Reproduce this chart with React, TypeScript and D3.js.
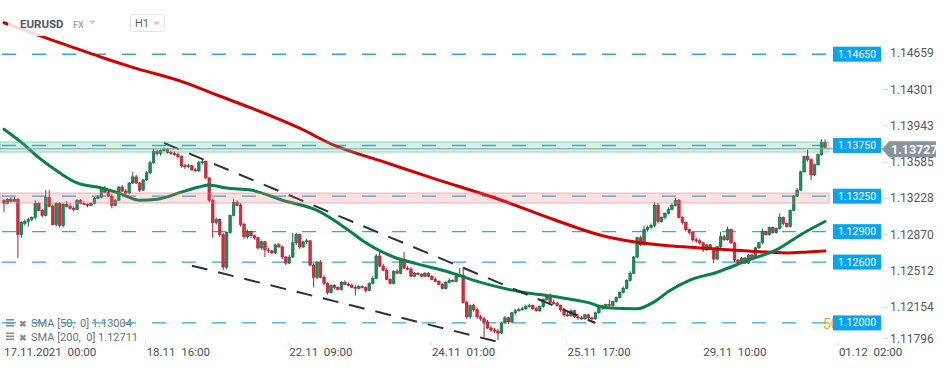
import * as d3 from "d3";

// EURUSD H1 candles, [open, high, low, close]
type C = [number, number, number, number];

const nov17: C[] = [
  [1.1321,1.1322,1.1309,1.1318],[1.1318,1.1323,1.1317,1.1322],[1.1322,1.1324,1.1319,1.1320],[1.1320,1.1324,1.1319,1.1322],
  [1.1322,1.1323,1.1264,1.1287],[1.1287,1.1300,1.1284,1.1299],[1.1298,1.1302,1.1296,1.1300],[1.1300,1.1304,1.1295,1.1302],
  [1.1302,1.1305,1.1300,1.1304],[1.1304,1.1321,1.1302,1.1318],[1.1318,1.1319,1.1310,1.1311],[1.1311,1.1312,1.1304,1.1306],
  [1.1306,1.1331,1.1305,1.1324],[1.1324,1.1331,1.1314,1.1315],[1.1315,1.1317,1.1296,1.1297],[1.1297,1.1319,1.1295,1.1318],
  [1.1318,1.1319,1.1294,1.1296],[1.1296,1.1318,1.1294,1.1317],[1.1317,1.1320,1.1314,1.1315],[1.1315,1.1318,1.1312,1.1313],
  [1.1313,1.1315,1.1310,1.1312],[1.1312,1.1322,1.1311,1.1321],[1.1321,1.1322,1.1317,1.1318],[1.1318,1.1320,1.1316,1.1317],
  [1.1317,1.1318,1.1314,1.1316],[1.1316,1.1319,1.1315,1.1318],[1.1318,1.1324,1.1317,1.1323],[1.1323,1.1326,1.1322,1.1324],
  [1.1324,1.1334,1.1323,1.1333],[1.1333,1.1335,1.1328,1.1329],[1.1329,1.1330,1.1324,1.1325],[1.1325,1.1327,1.1313,1.1316],
  [1.1316,1.1322,1.1315,1.1321],[1.1321,1.1335,1.1320,1.1334],[1.1334,1.1336,1.1329,1.1330],[1.1330,1.1332,1.1327,1.1328],
  [1.1328,1.1339,1.1327,1.1338],[1.1338,1.1349,1.1337,1.1344],[1.1344,1.1346,1.1337,1.1338],[1.1338,1.1339,1.1329,1.1331],
  [1.1331,1.1342,1.1330,1.1341],
];
const nov18: C[] = [
  [1.1341,1.1350,1.1340,1.1348],[1.1348,1.1360,1.1347,1.1358],[1.1358,1.1372,1.1357,1.1369],[1.1369,1.1371,1.1365,1.1367],
  [1.1367,1.1371,1.1365,1.1370],[1.1370,1.1373,1.1369,1.1371],[1.1371,1.1372,1.1367,1.1368],[1.1368,1.1370,1.1366,1.1367],
  [1.1367,1.1369,1.1365,1.1366],[1.1366,1.1368,1.1362,1.1364],[1.1364,1.1365,1.1353,1.1355],[1.1355,1.1357,1.1352,1.1354],
  [1.1354,1.1357,1.1353,1.1355],[1.1355,1.1356,1.1350,1.1351],[1.1351,1.1353,1.1349,1.1350],[1.1350,1.1360,1.1349,1.1358],
  [1.1358,1.1361,1.1356,1.1359],[1.1359,1.1360,1.1342,1.1343],[1.1343,1.1344,1.1319,1.1321],[1.1321,1.1323,1.1284,1.1299],
  [1.1299,1.1304,1.1297,1.1302],[1.1302,1.1303,1.1285,1.1287],[1.1287,1.1289,1.1252,1.1255],[1.1255,1.1290,1.1253,1.1289],
  [1.1289,1.1307,1.1288,1.1306],[1.1306,1.1322,1.1305,1.1319],[1.1319,1.1321,1.1315,1.1316],[1.1316,1.1318,1.1295,1.1297],
  [1.1297,1.1299,1.1283,1.1285],[1.1285,1.1292,1.1283,1.1290],[1.1290,1.1291,1.1284,1.1286],[1.1286,1.1287,1.1282,1.1284],
  [1.1284,1.1285,1.1272,1.1274],[1.1274,1.1281,1.1272,1.1280],[1.1280,1.1281,1.1265,1.1272],[1.1272,1.1274,1.1269,1.1271],
  [1.1271,1.1272,1.1268,1.1269],[1.1269,1.1278,1.1268,1.1277],[1.1277,1.1279,1.1274,1.1275],[1.1275,1.1276,1.1263,1.1265],
  [1.1265,1.1266,1.1257,1.1259],
];
const nov22: C[] = [
  [1.1259,1.1267,1.1258,1.1265],[1.1265,1.1289,1.1264,1.1279],[1.1279,1.1289,1.1277,1.1287],[1.1287,1.1288,1.1273,1.1275],
  [1.1275,1.1281,1.1274,1.1280],[1.1280,1.1283,1.1278,1.1281],[1.1281,1.1282,1.1256,1.1257],[1.1257,1.1259,1.1235,1.1245],
  [1.1245,1.1261,1.1243,1.1260],[1.1260,1.1262,1.1244,1.1245],[1.1245,1.1247,1.1237,1.1239],[1.1239,1.1240,1.1228,1.1230],
  [1.1230,1.1238,1.1229,1.1237],[1.1237,1.1238,1.1233,1.1235],[1.1235,1.1236,1.1232,1.1233],[1.1233,1.1241,1.1232,1.1240],
  [1.1240,1.1242,1.1237,1.1238],[1.1238,1.1240,1.1236,1.1237],[1.1237,1.1239,1.1234,1.1235],[1.1235,1.1237,1.1227,1.1234],
  [1.1234,1.1237,1.1233,1.1236],[1.1236,1.1237,1.1234,1.1235],[1.1235,1.1236,1.1230,1.1232],[1.1232,1.1240,1.1231,1.1239],
  [1.1239,1.1246,1.1238,1.1244],[1.1244,1.1268,1.1243,1.1266],[1.1266,1.1270,1.1255,1.1256],[1.1256,1.1258,1.1251,1.1252],
  [1.1252,1.1254,1.1242,1.1243],[1.1243,1.1244,1.1238,1.1239],[1.1239,1.1252,1.1238,1.1251],[1.1251,1.1253,1.1248,1.1249],
  [1.1249,1.1264,1.1248,1.1262],[1.1262,1.1270,1.1253,1.1254],[1.1254,1.1256,1.1252,1.1253],[1.1253,1.1255,1.1245,1.1246],
  [1.1246,1.1250,1.1245,1.1249],[1.1249,1.1250,1.1247,1.1248],[1.1248,1.1249,1.1245,1.1246],[1.1246,1.1250,1.1245,1.1249],
  [1.1249,1.1250,1.1245,1.1246],
];
const nov24: C[] = [
  [1.1246,1.1247,1.1242,1.1243],[1.1243,1.1245,1.1240,1.1241],[1.1241,1.1242,1.1237,1.1238],[1.1238,1.1239,1.1233,1.1234],
  [1.1234,1.1241,1.1233,1.1240],[1.1240,1.1244,1.1239,1.1242],[1.1242,1.1243,1.1240,1.1241],[1.1241,1.1247,1.1240,1.1246],
  [1.1246,1.1254,1.1245,1.1247],[1.1247,1.1254,1.1219,1.1220],[1.1220,1.1222,1.1204,1.1206],[1.1206,1.1218,1.1204,1.1217],
  [1.1217,1.1219,1.1211,1.1213],[1.1213,1.1215,1.1204,1.1206],[1.1206,1.1208,1.1202,1.1204],[1.1204,1.1206,1.1186,1.1201],
  [1.1201,1.1203,1.1194,1.1195],[1.1195,1.1197,1.1191,1.1193],[1.1193,1.1195,1.1190,1.1192],[1.1192,1.1194,1.1183,1.1190],
  [1.1190,1.1201,1.1189,1.1200],[1.1200,1.1207,1.1199,1.1205],[1.1205,1.1206,1.1199,1.1201],[1.1201,1.1211,1.1200,1.1210],
  [1.1210,1.1214,1.1208,1.1212],[1.1212,1.1215,1.1211,1.1213],[1.1213,1.1216,1.1212,1.1214],[1.1214,1.1218,1.1213,1.1216],
  [1.1216,1.1219,1.1215,1.1217],[1.1217,1.1218,1.1213,1.1214],[1.1214,1.1216,1.1211,1.1212],[1.1212,1.1217,1.1211,1.1216],
  [1.1216,1.1224,1.1215,1.1223],[1.1223,1.1228,1.1222,1.1226],[1.1226,1.1229,1.1219,1.1220],[1.1220,1.1223,1.1218,1.1219],
  [1.1219,1.1221,1.1216,1.1217],[1.1217,1.1218,1.1211,1.1213],[1.1213,1.1215,1.1206,1.1208],[1.1208,1.1211,1.1206,1.1207],
];
const nov25: C[] = [
  [1.1207,1.1213,1.1206,1.1212],[1.1212,1.1213,1.1205,1.1206],[1.1206,1.1209,1.1203,1.1205],[1.1205,1.1207,1.1203,1.1204],
  [1.1204,1.1209,1.1203,1.1208],[1.1208,1.1209,1.1204,1.1205],[1.1205,1.1206,1.1202,1.1204],[1.1204,1.1211,1.1203,1.1210],
  [1.1210,1.1218,1.1209,1.1217],[1.1217,1.1218,1.1213,1.1215],[1.1215,1.1219,1.1214,1.1218],[1.1218,1.1223,1.1216,1.1217],
  [1.1217,1.1222,1.1216,1.1221],[1.1221,1.1226,1.1220,1.1225],[1.1225,1.1231,1.1224,1.1230],[1.1230,1.1236,1.1229,1.1234],
  [1.1234,1.1243,1.1233,1.1242],[1.1242,1.1251,1.1241,1.1249],[1.1249,1.1266,1.1248,1.1265],[1.1265,1.1285,1.1264,1.1284],
  [1.1284,1.1286,1.1276,1.1277],[1.1277,1.1296,1.1276,1.1292],[1.1292,1.1296,1.1290,1.1294],[1.1294,1.1298,1.1293,1.1296],
  [1.1296,1.1319,1.1294,1.1316],[1.1316,1.1318,1.1298,1.1300],[1.1300,1.1305,1.1299,1.1304],[1.1304,1.1309,1.1302,1.1308],
  [1.1308,1.1314,1.1307,1.1312],[1.1312,1.1318,1.1311,1.1316],[1.1316,1.1323,1.1315,1.1321],[1.1321,1.1322,1.1303,1.1304],
  [1.1304,1.1305,1.1297,1.1299],[1.1299,1.1300,1.1290,1.1292],[1.1292,1.1293,1.1287,1.1289],[1.1289,1.1290,1.1280,1.1282],
  [1.1282,1.1284,1.1279,1.1281],[1.1281,1.1283,1.1277,1.1279],[1.1279,1.1280,1.1270,1.1272],
];
const nov29: C[] = [
  [1.1272,1.1278,1.1271,1.1277],[1.1277,1.1278,1.1272,1.1273],[1.1273,1.1274,1.1259,1.1263],[1.1263,1.1276,1.1262,1.1275],
  [1.1275,1.1290,1.1274,1.1285],[1.1285,1.1287,1.1281,1.1282],[1.1282,1.1295,1.1281,1.1292],[1.1292,1.1293,1.1278,1.1279],
  [1.1279,1.1280,1.1260,1.1262],[1.1262,1.1263,1.1257,1.1259],[1.1259,1.1265,1.1258,1.1264],[1.1264,1.1265,1.1258,1.1259],
  [1.1259,1.1268,1.1258,1.1267],[1.1267,1.1268,1.1263,1.1264],[1.1264,1.1275,1.1263,1.1274],[1.1274,1.1280,1.1273,1.1279],
  [1.1279,1.1293,1.1278,1.1290],[1.1290,1.1291,1.1286,1.1287],[1.1287,1.1295,1.1286,1.1294],[1.1294,1.1295,1.1288,1.1289],
  [1.1289,1.1294,1.1288,1.1293],[1.1293,1.1308,1.1292,1.1304],[1.1304,1.1305,1.1296,1.1298],[1.1298,1.1299,1.1294,1.1295],
  [1.1295,1.1312,1.1294,1.1311],[1.1311,1.1326,1.1310,1.1325],[1.1325,1.1333,1.1324,1.1331],[1.1331,1.1350,1.1330,1.1349],
  [1.1349,1.1365,1.1348,1.1364],[1.1364,1.1371,1.1359,1.1361],[1.1361,1.1362,1.1341,1.1346],[1.1346,1.1357,1.1345,1.1356],
  [1.1356,1.1367,1.1355,1.1366],[1.1366,1.1381,1.1365,1.1378],[1.1378,1.1381,1.1372,1.1373],
];

// moving averages, sampled at candle indices
const sma50At = [0, 5, 10, 16, 21, 28, 33, 39, 44, 51, 56, 59, 64, 71, 80, 90, 100, 104, 112, 119, 128, 138, 148, 158, 168, 173, 182, 187, 191, 197, 205, 214, 222, 229, 236];
const sma50 = [1.1391, 1.1378, 1.1363, 1.1348, 1.1338, 1.1333, 1.1328, 1.1321, 1.1322, 1.1329, 1.1334, 1.1336, 1.1333, 1.1331, 1.1321, 1.1311, 1.1289, 1.1279, 1.1265, 1.1258, 1.1250, 1.1239, 1.1231, 1.1226, 1.1220, 1.1215, 1.1214, 1.1221, 1.1231, 1.1242, 1.1250, 1.1262, 1.1272, 1.1287, 1.1300];
const sma200At = [0, 8, 18, 28, 37, 52, 61, 71, 85, 95, 109, 123, 143, 158, 171, 181, 191, 200, 214, 225, 231, 236];
const sma200 = [1.1496, 1.1486, 1.1474, 1.1462, 1.1452, 1.1437, 1.1425, 1.1412, 1.1392, 1.1375, 1.1359, 1.1343, 1.1321, 1.1302, 1.1287, 1.1280, 1.1276, 1.1274, 1.1271, 1.1269, 1.1270, 1.1271];
const smaLegend = ["SMA [50,  0] 1.13004", "SMA [200,  0] 1.12711"];

// channel lines: [startIndex, startPrice, endIndex, endPrice]
const channel = [
  [46, 1.13774, 170, 1.11999],
  [54, 1.12564, 143, 1.11805],
];

const levels = [1.1465, 1.1375, 1.1325, 1.129, 1.126, 1.12];
const zoneLow = [1.13685, 1.13182];
const zoneHigh = [1.13784, 1.13281];
const lastPrice = 1.13727;

const priceTicks = [1.14659, 1.14301, 1.13943, 1.13585, 1.13228, 1.1287, 1.12512, 1.12154, 1.11796];
const timeAt = [0, 41, 82, 123, 162, 201, 240];
const timeLabels = ["17.11.2021  00:00", "18.11  16:00", "22.11  09:00", "24.11  01:00", "25.11  17:00", "29.11  10:00", "01.12  02:00"];

const FONT = "Roboto, 'Noto Sans', sans-serif";

export default function App() {
  const candles = [...nov17, ...nov18, ...nov22, ...nov24, ...nov25, ...nov29];
  const x = d3.scaleLinear().domain([0, candles.length - 1]).range([4, 825]);
  const y = d3.scaleLinear().domain([1.12154, 1.14659]).range([307.3, 53.3]);
  const bw = 2.6;
  const line = d3.line<[number, number]>().x((d) => x(d[0])).y((d) => y(d[1])).curve(d3.curveMonotoneX);
  const zoneFill = ["rgba(60,200,140,0.22)", "rgba(240,110,110,0.2)"];
  const zoneStroke = ["rgba(40,190,130,0.5)", "rgba(230,120,120,0.5)"];

  return (
    <div style={{ position: "fixed", left: 0, top: 0 }}>
      <svg width={950} height={370} style={{ display: "block", background: "#fff", fontFamily: FONT }}>
        {/* legend */}
        {smaLegend.map((t, i) => {
          const ty = 327 + i * 13.5;
          return (
            <g key={t} fill="#8a8f94">
              <rect x={6} y={ty - 8} width={8} height={1.6} />
              <rect x={6} y={ty - 5} width={8} height={1.6} />
              <rect x={6} y={ty - 2} width={8} height={1.6} />
              <text x={19} y={ty} fontSize={9} fontWeight="bold">✖</text>
              <text x={31} y={ty} fontSize={11} fill="#6d7378" style={{ whiteSpace: "pre" }}>{t}</text>
            </g>
          );
        })}

        {/* level lines */}
        {levels.map((v) => (
          <line key={v} x1={2} x2={833} y1={y(v)} y2={y(v)} stroke="#2aa9e9" strokeWidth={1.4} strokeDasharray="14 16" />
        ))}

        {/* candles */}
        {candles.map(([o, h, l, c], i) => {
          const up = c >= o;
          const fill = up ? "#1d8d5b" : "#dc2a3a";
          const st = up ? "#0b6b40" : "#b01d2a";
          const top = y(Math.max(o, c));
          const hgt = Math.max(1, Math.abs(y(o) - y(c)));
          return (
            <g key={i}>
              <line x1={x(i)} x2={x(i)} y1={y(h)} y2={y(l)} stroke={st} strokeWidth={1} />
              <rect x={x(i) - bw / 2} y={top} width={bw} height={hgt} fill={fill} stroke={st} strokeWidth={0.6} />
            </g>
          );
        })}

        {/* SMAs */}
        <path d={line(d3.zip(sma200At, sma200) as [number, number][]) ?? ""} fill="none" stroke="#d40000" strokeWidth={3} strokeLinecap="round" />
        <path d={line(d3.zip(sma50At, sma50) as [number, number][]) ?? ""} fill="none" stroke="#08804a" strokeWidth={3} strokeLinecap="round" />

        {/* channel */}
        {channel.map(([i0, p0, i1, p1], k) => (
          <line key={k} x1={x(i0)} y1={y(p0)} x2={x(i1)} y2={y(p1)} stroke="#2b3137" strokeWidth={2} strokeDasharray="16 11" />
        ))}

        {/* zones */}
        {zoneLow.map((lo, k) => (
          <rect key={k} x={0} y={y(zoneHigh[k])} width={829} height={y(lo) - y(zoneHigh[k])}
                fill={zoneFill[k]} stroke={zoneStroke[k]} strokeWidth={1} />
        ))}

        {/* last price line */}
        <line x1={0} x2={884} y1={y(lastPrice) + 1} y2={y(lastPrice) + 1} stroke="#8e979e" strokeWidth={1} />

        {/* header */}
        <rect x={8} y={12} width={92} height={24} fill="#fff" fillOpacity={0.85} />
        <text x={20} y={28} fontSize={11.5} fontWeight="bold" fill="#4f5a64">EURUSD</text>
        <text x={73} y={28} fontSize={9} fontWeight="bold" fill="#a3adb6">FX</text>
        <path d="M89,20.5 L96,20.5 L92.5,24.5 Z" fill="#c9cfd4" />
        <rect x={130.5} y={14.5} width={34} height={17} rx={3} fill="#fff" stroke="#e1e4e7" />
        <text x={135} y={27} fontSize={11} fill="#5a636b">H1</text>
        <path d="M153,21.5 L160,21.5 L156.5,25.5 Z" fill="#c9cfd4" />

        {/* orange marker */}
        <text x={823} y={328.5} fontSize={14} fill="#f5a524">50</text>

        {/* level labels */}
        {levels.map((v) => (
          <g key={v}>
            <rect x={833} y={y(v) - 7.5} width={48} height={15} fill="#0aa4ee" />
            <text x={857} y={y(v)} fontSize={10.5} fill="#fff" textAnchor="middle" dominantBaseline="central">{v.toFixed(5)}</text>
          </g>
        ))}

        {/* price axis */}
        {priceTicks.map((v) => {
          const ty = Math.min(y(v), 338.5);
          return (
            <g key={v}>
              <line x1={882} x2={888} y1={ty} y2={ty} stroke="#d8dcdf" />
              <text x={890} y={ty} fontSize={12} fill="#555b60" dominantBaseline="central">{v.toFixed(5)}</text>
            </g>
          );
        })}

        {/* last price label */}
        <path d={`M882,${y(lastPrice) + 1.5} L889,${y(lastPrice) - 6.5} L936,${y(lastPrice) - 6.5} L936,${y(lastPrice) + 9.5} L889,${y(lastPrice) + 9.5} Z`} fill="#8a9399" />
        <text x={891} y={y(lastPrice) + 1.8} fontSize={12.5} fontWeight="bold" fill="#fff" dominantBaseline="central">{lastPrice.toFixed(5)}</text>

        {/* time axis */}
        {timeAt.map((t, k) => {
          const tx = k === 0 ? 4 : x(t);
          return (
            <g key={t}>
              {k > 0 && <line x1={tx - 1} x2={tx - 1} y1={341} y2={346} stroke="#dfe2e5" />}
              <text x={tx} y={356} fontSize={11.5} fill="#4a4f54" style={{ whiteSpace: "pre" }}>{timeLabels[k]}</text>
            </g>
          );
        })}
      </svg>
    </div>
  );
}
